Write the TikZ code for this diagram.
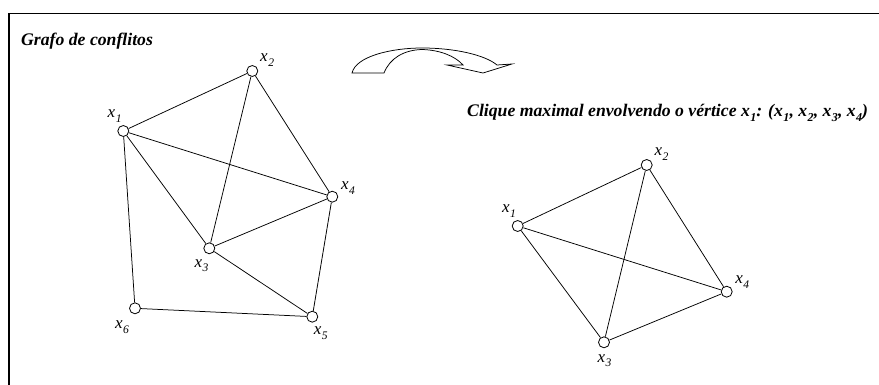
\documentclass[tikz,border=0pt]{standalone}
\usepackage{fontspec}
\setmainfont{Liberation Serif}
\usepackage{tikz}
\usetikzlibrary{positioning}
\newcommand{\vx}[1]{x\kern0.03em\raisebox{-0.28em}{\scalebox{0.68}{#1}}}

\begin{document}
\begin{tikzpicture}[x=1pt, y=-1pt,
    vertex/.style={draw, circle, fill=white, minimum size=11pt, inner sep=0pt, line width=0.8pt},
    edge/.style={line width=0.75pt},
    vlabel/.style={inner sep=0pt, font=\fontsize{17}{20}\selectfont\itshape},
    every label/.style={vlabel},
    heading/.style={inner sep=0pt, anchor=base west, font=\fontsize{17.7}{21}\selectfont\bfseries\itshape}]
  \useasboundingbox (0,0) rectangle (879,385);
  \draw[line width=1.2pt] (9,385) -- (9,13.5) -- (879,13.5);

  \node[heading] (title) at (21,46) {Grafo de conflitos};
  \node[heading] (clique) at (467,117) {Clique maximal envolvendo o vértice \vx{1}: (\vx{1}, \vx{2}, \vx{3}, \vx{4})};

  % grafo de conflitos
  \node[vertex, label={[label distance=3pt]100:\vx{1}}] (g1) at (123.3,131) {};
  \node[vertex, label={[label distance=3pt]30:\vx{2}}] (g2) at (252.3,71) {};
  \node[vertex, label={[label distance=5pt]266:\vx{3}}] (g3) at (209.3,248.3) {};
  \node[vertex, label={[label distance=3pt]15:\vx{4}}] (g4) at (332.3,196.7) {};
  \node[vertex, label={[label distance=4pt]278:\vx{5}}] (g5) at (312.3,316.7) {};
  \node[vertex, label={[label distance=8pt]245:\vx{6}}] (g6) at (135,308.3) {};
  \foreach \a/\b in {g1/g2, g1/g4, g1/g3, g1/g6, g2/g3, g2/g4, g3/g4, g3/g5, g4/g5, g6/g5}
    \draw[edge] (\a) -- (\b);

  % seta curva
  \draw[line width=0.75pt, fill=white] (352,73) -- (384,73)
    .. controls (390,58) and (404,50) .. (422,49.5)
    .. controls (440,50) and (455,56) .. (463,65) -- (447,65) -- (483,73) -- (512,64) -- (497,65)
    .. controls (485,55) and (455,48) .. (422,48)
    .. controls (392,48) and (356,56) .. (352,73) -- cycle;

  % clique maximal
  \node[vertex, label={[label distance=3pt]100:\vx{1}}] (c1) at (517.7,226) {};
  \node[vertex, label={[label distance=3pt]30:\vx{2}}] (c2) at (646.7,165) {};
  \node[vertex, label={[label distance=6pt]272:\vx{3}}] (c3) at (604,342.3) {};
  \node[vertex, label={[label distance=3pt]20:\vx{4}}] (c4) at (726.7,291.7) {};
  \foreach \a/\b in {c1/c2, c1/c3, c1/c4, c2/c3, c2/c4, c3/c4}
    \draw[edge] (\a) -- (\b);
\end{tikzpicture}
\end{document}
